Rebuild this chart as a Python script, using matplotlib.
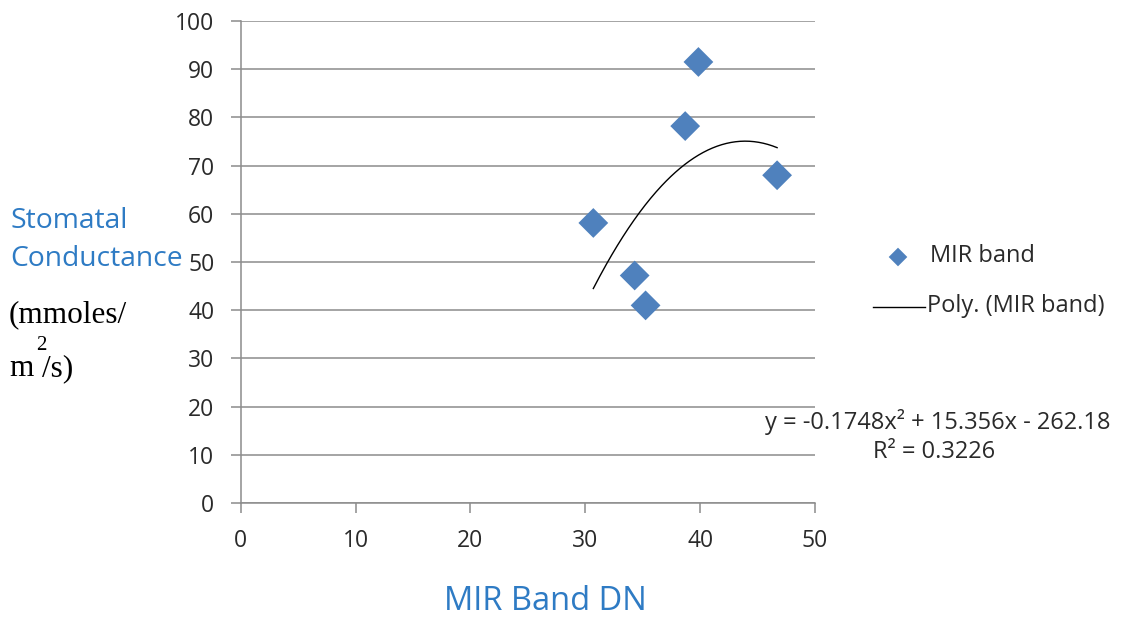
import matplotlib
matplotlib.use("Agg")
import matplotlib.pyplot as plt
import numpy as np

# Data
mir_dn = [30.7, 34.3, 35.25, 38.7, 39.85, 46.7]
stomatal = [58.1, 47.2, 41.0, 78.2, 91.5, 68.0]
poly_coef = [-0.1748, 15.356, -262.18]
x_ticks = [0, 10, 20, 30, 40, 50]
y_ticks = [0, 10, 20, 30, 40, 50, 60, 70, 80, 90, 100]

W, H = 1127, 621
fig = plt.figure(figsize=(W / 100, H / 100), dpi=100)
ax = fig.add_axes([240.7 / W, 1 - 503 / H, (815 - 240.7) / W, (503 - 21) / H])

grid_c = "#8c8c8c"
blue = "#4F81BD"
label_blue = "#2E7BC4"
text_c = "#2a2a2a"
tick_font = "Open Sans"

ax.set_xlim(0, 50)
ax.set_ylim(0, 100)
ax.set_xticks(x_ticks)
ax.set_yticks(y_ticks)
ax.yaxis.grid(True, color=grid_c, linewidth=1.1)
ax.set_axisbelow(True)
for s in ["top", "right"]:
    ax.spines[s].set_visible(False)
for s in ["left", "bottom"]:
    ax.spines[s].set_color(grid_c)
    ax.spines[s].set_linewidth(1.1)
ax.tick_params(axis="both", colors=grid_c, length=7, width=1.1, direction="out")
ax.tick_params(axis="y", pad=12)
ax.tick_params(axis="x", pad=12)
for lab in ax.get_xticklabels() + ax.get_yticklabels():
    lab.set_fontfamily(tick_font)
    lab.set_fontsize(16.5)
    lab.set_color(text_c)

ax.scatter(mir_dn, stomatal, marker="D", s=230, color=blue, zorder=3,
           label="MIR band", edgecolors="none", clip_on=False)

xs = np.linspace(min(mir_dn), max(mir_dn), 200)
ys = np.polyval(poly_coef, xs)
ax.plot(xs, ys, color="black", linewidth=1.0, zorder=2, label="Poly. (MIR band)")

# Overlay for legend and free text, in pixel coordinates
fig_ax = fig.add_axes([0, 0, 1, 1], facecolor="none")
fig_ax.set_xlim(0, W)
fig_ax.set_ylim(H, 0)
fig_ax.axis("off")
fig_ax.scatter([898], [257], marker="D", s=90, color=blue, edgecolors="none")
fig_ax.text(930, 256, "MIR band", fontfamily=tick_font, fontsize=17,
            color=text_c, va="center", ha="left")
fig_ax.plot([873, 925], [307, 307], color="black", linewidth=1.0)
fig_ax.text(927, 306, "Poly. (MIR band)", fontfamily=tick_font, fontsize=17,
            color=text_c, va="center", ha="left")

fig_ax.text(938, 422, "y = -0.1748x² + 15.356x - 262.18", fontfamily=tick_font,
            fontsize=17, color=text_c, va="center", ha="center")
fig_ax.text(934, 452, "R² = 0.3226", fontfamily=tick_font, fontsize=17,
            color=text_c, va="center", ha="center")

# Y label pieces
fig_ax.text(10, 221, "Stomatal", fontfamily=tick_font, fontsize=20.3,
            color=label_blue, va="center", ha="left")
fig_ax.text(10, 259, "Conductance", fontfamily=tick_font, fontsize=20.3,
            color=label_blue, va="center", ha="left")
fig_ax.text(9, 315, "(mmoles/", fontfamily="Liberation Serif", fontsize=22.5,
            color="black", va="center", ha="left")
fig_ax.text(9, 369, "m", fontfamily="Liberation Serif", fontsize=22.5,
            color="black", va="center", ha="left")
fig_ax.text(36, 345, "2", fontfamily="Liberation Serif", fontsize=15,
            color="black", va="center", ha="left")
fig_ax.text(42, 369, "/s)", fontfamily="Liberation Serif", fontsize=22.5,
            color="black", va="center", ha="left")

# X label
fig_ax.text(545, 601, "MIR Band DN", fontfamily=tick_font, fontsize=23.5,
            color=label_blue, va="center", ha="center")

fig.savefig("out.png", dpi=100, facecolor="white")
